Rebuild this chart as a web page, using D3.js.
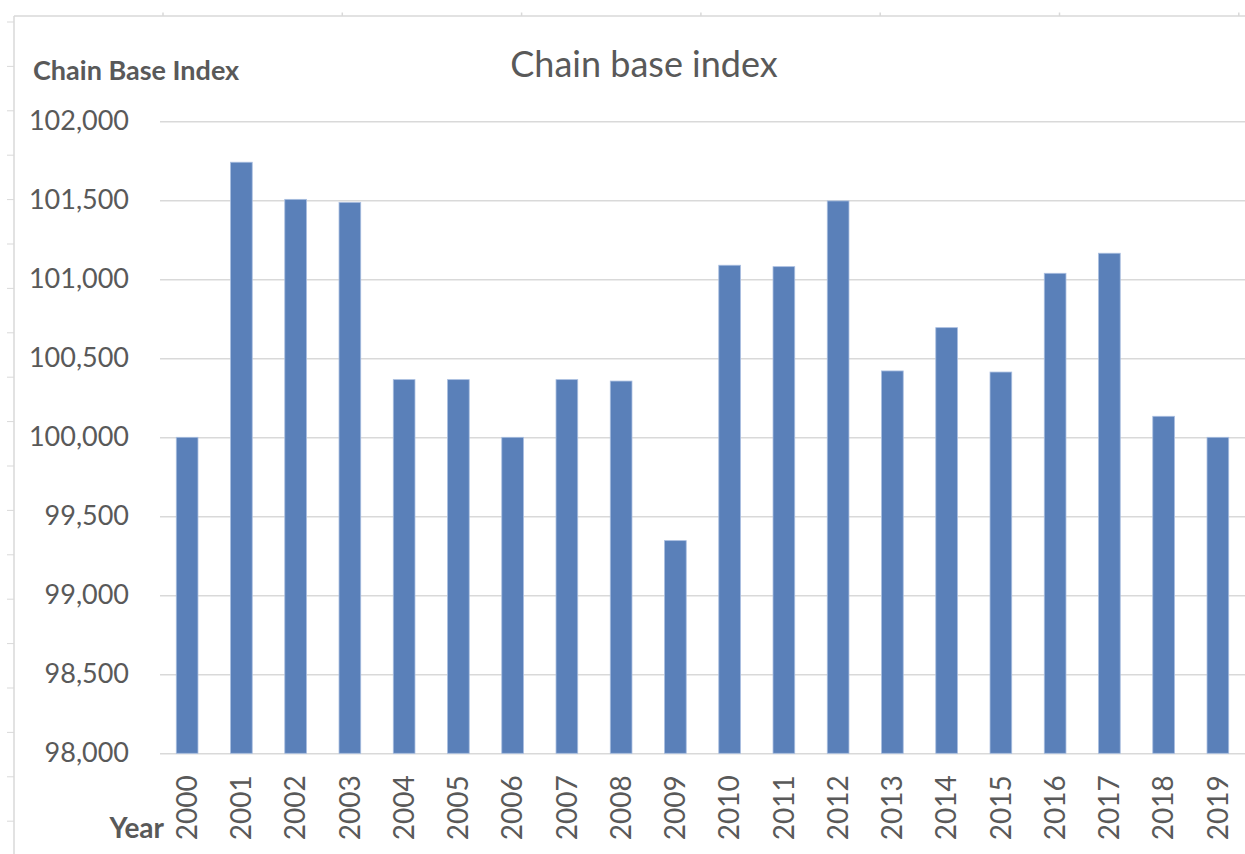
<!DOCTYPE html>
<html>
<head>
<meta charset="utf-8">
<script src="https://cdn.jsdelivr.net/npm/d3@7"></script>
<style>
  body { margin: 0; background: #fff; }
  text { font-family: Lato, "Open Sans", sans-serif; fill: #595959; }
</style>
</head>
<body>
<div id="chart"></div>
<script>
// categories and values (index, comma decimal in labels)
var years = ['2000', '2001', '2002', '2003', '2004', '2005', '2006', '2007', '2008', '2009',
  '2010', '2011', '2012', '2013', '2014', '2015', '2016', '2017', '2018', '2019'];
var values = [100.000, 101.741, 101.506, 101.487, 100.365, 100.365, 100.000, 100.365, 100.356, 99.346,
  101.089, 101.080, 101.496, 100.420, 100.694, 100.413, 101.038, 101.165, 100.133, 100.000];
var yTicks = [98, 98.5, 99, 99.5, 100, 100.5, 101, 101.5, 102];

var W = 1245, H = 854;
var margin = { top: 121.3, right: 0, bottom: 854 - 753.3, left: 160 },
  width = W - margin.left - margin.right,
  height = H - margin.top - margin.bottom;

var root = d3.select('#chart')
  .append('svg')
  .attr('width', W)
  .attr('height', H);

// spreadsheet frame bits around the chart
root.append('line')
  .attr('x1', 14).attr('x2', 14).attr('y1', 16).attr('y2', H)
  .attr('stroke', '#d9d9d9').attr('stroke-width', 1.5);
root.append('line')
  .attr('x1', 14).attr('x2', W).attr('y1', 16).attr('y2', 16)
  .attr('stroke', '#d9d9d9').attr('stroke-width', 1.5);
root.selectAll('rowStub')
  .data(d3.range(19))
  .enter()
  .append('line')
  .attr('x1', 7).attr('x2', 14)
  .attr('y1', function (d) { return 22 + d * 44.4; })
  .attr('y2', function (d) { return 22 + d * 44.4; })
  .attr('stroke', '#d9d9d9').attr('stroke-width', 1);
root.selectAll('colStub')
  .data(d3.range(7))
  .enter()
  .append('line')
  .attr('x1', function (d) { return 163 + d * 179.3; })
  .attr('x2', function (d) { return 163 + d * 179.3; })
  .attr('y1', 12.5).attr('y2', 16)
  .attr('stroke', '#d9d9d9').attr('stroke-width', 1.5);

var svg = root.append('g')
  .attr('transform', 'translate(' + margin.left + ',' + margin.top + ')');

var xScale = d3.scaleBand().domain(years).range([0, width]).paddingInner(0.6).paddingOuter(0.3);
var yScale = d3.scaleLinear().domain([98, 102]).range([height, 0]);

function fmt(v) {
  return d3.format(',.3f')(v).replace('.', ',');
}

// gridlines
var grid = svg.append('g')
  .call(d3.axisLeft(yScale).tickValues(yTicks).tickSize(-width).tickFormat(''));
grid.select('.domain').remove();
grid.selectAll('line').attr('stroke', '#d9d9d9').attr('stroke-width', 1.5);

// y labels
var yAxis = svg.append('g')
  .call(d3.axisLeft(yScale).tickValues(yTicks).tickSize(0).tickPadding(31).tickFormat(fmt));
yAxis.select('.domain').remove();
yAxis.selectAll('text')
  .style('font-size', '27px')
  .attr('fill', '#595959')
  .attr('font-family', 'Lato, sans-serif');

// bars
svg.selectAll('bar')
  .data(values)
  .enter()
  .append('rect')
  .attr('x', function (d, i) { return xScale(years[i]); })
  .attr('width', xScale.bandwidth())
  .attr('y', function (d) { return yScale(d); })
  .attr('height', function (d) { return height - yScale(d); })
  .attr('fill', '#5a80b9')
  .attr('stroke', '#a9bee0')
  .attr('stroke-width', 0.8);

// x labels
var xAxis = svg.append('g')
  .attr('transform', 'translate(0,' + height + ')')
  .call(d3.axisBottom(xScale).tickSize(0).tickPadding(0));
xAxis.select('.domain').remove();
xAxis.selectAll('text')
  .attr('transform', 'rotate(-90)')
  .attr('x', -22)
  .attr('y', 0)
  .attr('dy', '0.35em')
  .style('text-anchor', 'end')
  .style('font-size', '28px')
  .attr('fill', '#595959')
  .attr('font-family', 'Lato, sans-serif');

// titles
root.append('text')
  .attr('x', 644)
  .attr('y', 77)
  .style('text-anchor', 'middle')
  .style('font-size', '36px')
  .text('Chain base index');

root.append('text')
  .attr('x', 33)
  .attr('y', 80)
  .style('font-size', '27px')
  .style('font-weight', 'bold')
  .text('Chain Base Index');

root.append('text')
  .attr('x', 164)
  .attr('y', 838)
  .style('text-anchor', 'end')
  .style('font-size', '28px')
  .style('font-weight', 'bold')
  .text('Year');
</script>
</body>
</html>
